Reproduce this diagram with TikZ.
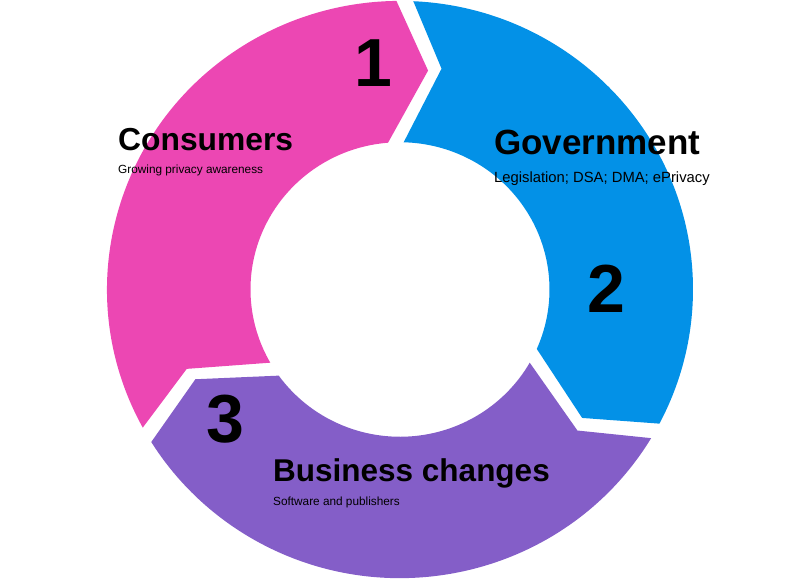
\documentclass[tikz,border=0pt]{standalone}
\usepackage{fontspec}
\setmainfont{Liberation Sans}
\definecolor{cpink}{HTML}{EC47B3}
\definecolor{cblue}{HTML}{0391E7}
\definecolor{cpurple}{HTML}{845EC8}
\begin{document}
\begin{tikzpicture}[x=1pt,y=1pt,
  bigtitle/.style={anchor=base west, inner sep=0pt, font=\bfseries\fontsize{#1}{#1}\selectfont},
  subtitle/.style={anchor=base west, inner sep=0pt, font=\fontsize{#1}{#1}\selectfont},
  numlabel/.style={anchor=base, inner sep=0pt, font=\bfseries\fontsize{68}{68}\selectfont}]
\useasboundingbox (0,0) rectangle (800,579);
\begin{scope}[shift={(400,289.5)}, yscale=0.985]
\fill[cpink] (208.6:293pt) arc[start angle=208.6, end angle=90.7, radius=293pt]
  -- (82.8:224pt) -- (94.6:149.5pt) arc[start angle=94.6, end angle=209.8, radius=149.5pt]
  -- (200.7:228pt) -- cycle;
\fill[cblue] (87.4:293pt) arc[start angle=87.4, end angle=-27.7, radius=293pt]
  -- (-35.6:224pt) -- (-23.8:149.5pt) arc[start angle=-23.8, end angle=88.6, radius=149.5pt]
  -- (79.5:228pt) -- cycle;
\fill[cpurple] (-31:293pt) arc[start angle=-31, end angle=-148.1, radius=293pt]
  -- (-156:224pt) -- (-144.2:149.5pt) arc[start angle=-144.2, end angle=-29.8, radius=149.5pt]
  -- (-38.9:228pt) -- cycle;
\end{scope}
\node[numlabel] (n1) at (373.5,492) {1};
\node[numlabel] (n2) at (606,267) {2};
\node[numlabel] (n3) at (225.5,137) {3};
\node[bigtitle=31.8] (t1) at (118,428) {Consumers};
\node[subtitle=11.8] (s1) at (118,405) {Growing privacy awareness};
\node[bigtitle=35] (t2) at (494,424.5) {Government};
\node[subtitle=14.8] (s2) at (494,396.3) {Legislation; DSA; DMA; ePrivacy};
\node[bigtitle=31.5] (t3) at (273,98) {Business changes};
\node[subtitle=11.8] (s3) at (273,74) {Software and publishers};
\end{tikzpicture}
\end{document}
